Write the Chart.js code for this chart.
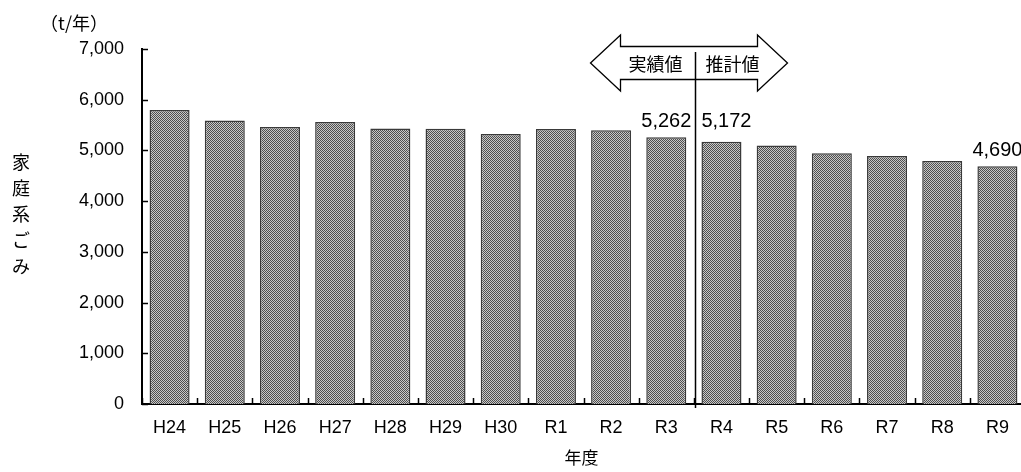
<!DOCTYPE html>
<html lang="ja">
<head>
<meta charset="utf-8">
<title>家庭系ごみ</title>
<script src="https://cdn.jsdelivr.net/npm/chart.js@4.4.1/dist/chart.umd.min.js"></script>
<style>
  html, body { margin: 0; padding: 0; background: #fff; overflow: hidden; }
  #wrap { width: 1021px; height: 472px; overflow: hidden; }
</style>
</head>
<body>
<div id="wrap"><canvas id="gomiChart" width="1025" height="472"></canvas></div>
<script>
// 年度ごとの家庭系ごみ量 (t/年)  H24〜R3 実績, R4〜R9 推計
const years = ['H24', 'H25', 'H26', 'H27', 'H28', 'H29', 'H30', 'R1', 'R2', 'R3', 'R4', 'R5', 'R6', 'R7', 'R8', 'R9'];
const gomiValues = [5796, 5590, 5462, 5562, 5430, 5426, 5322, 5422, 5396, 5262, 5172, 5096, 4942, 4890, 4790, 4690];
const yTickValues = [0, 1000, 2000, 3000, 4000, 5000, 6000, 7000];
const labeledYears = ['R3', 'R4', 'R9'];
const lastActualYear = 'R3';

const latin = '"Liberation Sans", Arial, sans-serif';
const jp = '"Noto Sans CJK JP", "Noto Sans", sans-serif';

const canvas = document.getElementById('gomiChart');
const ctx = canvas.getContext('2d');

// 網掛け (灰色のドット)
function makeDotPattern() {
    const c = document.createElement('canvas');
    c.width = 2; c.height = 2;
    const g = c.getContext('2d');
    g.fillStyle = '#c8c8c8';
    g.fillRect(0, 0, 2, 2);
    g.fillStyle = '#4e4e4e';
    g.fillRect(0, 0, 1, 1);
    g.fillRect(1, 1, 1, 1);
    return ctx.createPattern(c, 'repeat');
}

function fmt(v) {
    return v.toLocaleString('en-US');
}

// 内向きの目盛り・区切り線・矢印・ラベル
const decorations = {
    id: 'decorations',
    afterDatasetsDraw(chart) {
        const g = chart.ctx;
        const xs = chart.scales.x;
        const ys = chart.scales.y;
        const area = chart.chartArea;
        g.save();
        g.strokeStyle = '#000';
        g.lineWidth = 1.5;

        // y軸の目盛り
        yTickValues.forEach(v => {
            const y = Math.round(ys.getPixelForValue(v)) + 0.5;
            g.beginPath();
            g.moveTo(area.left, y);
            g.lineTo(area.left + 6, y);
            g.stroke();
        });
        // x軸の目盛り (区切り)
        for (let i = 0; i <= years.length; i++) {
            const x = Math.round(xs.getPixelForValue(i - 0.5)) + 0.5;
            g.beginPath();
            g.moveTo(x, area.bottom);
            g.lineTo(x, area.bottom - 6);
            g.stroke();
        }

        // 実績値 / 推計値 の区切り線
        const split = xs.getPixelForValue(years.indexOf(lastActualYear) + 0.5) + 1;
        const sx = Math.round(split) + 0.5;
        g.beginPath();
        g.moveTo(sx, 52);
        g.lineTo(sx, area.bottom + 4);
        g.stroke();

        // 両方向矢印
        const L = sx - 105, R = sx + 92, hl = 30;
        const mid = 63, shaft = 16.5, head = 28;
        g.beginPath();
        g.moveTo(L, mid);
        g.lineTo(L + hl, mid - head);
        g.lineTo(L + hl, mid - shaft);
        g.lineTo(R - hl, mid - shaft);
        g.lineTo(R - hl, mid - head);
        g.lineTo(R, mid);
        g.lineTo(R - hl, mid + head);
        g.lineTo(R - hl, mid + shaft);
        g.lineTo(L + hl, mid + shaft);
        g.lineTo(L + hl, mid + head);
        g.closePath();
        g.fillStyle = '#fff';
        g.fill();
        g.lineWidth = 1.3;
        g.stroke();
        // 矢印の中の区切り線は上に重ねる
        g.lineWidth = 1.5;
        g.beginPath();
        g.moveTo(sx, 52);
        g.lineTo(sx, mid + shaft);
        g.stroke();

        g.fillStyle = '#000';
        g.font = '18px ' + jp;
        g.textAlign = 'center';
        g.textBaseline = 'middle';
        g.fillText('実績値', sx - 40, mid + 1);
        g.fillText('推計値', sx + 37, mid + 1);

        // 値ラベル
        const meta = chart.getDatasetMeta(0);
        g.font = '20px ' + latin;
        g.textBaseline = 'alphabetic';
        const r3 = meta.data[years.indexOf('R3')];
        labeledYears.forEach(yr => {
            const i = years.indexOf(yr);
            const bar = meta.data[i];
            let x = bar.x, y = bar.y - 10;
            if (yr === 'R4') { x += 5; y = r3.y - 10; }
            g.fillText(fmt(gomiValues[i]), x, y);
        });

        // 単位・軸タイトル
        g.font = '18px ' + jp;
        g.textBaseline = 'middle';
        g.fillText('（t/年）', 74, 23);
        const yTitle = ['家', '庭', '系', 'ご', 'み'];
        yTitle.forEach((ch, k) => g.fillText(ch, 21, 162 + k * 26));
        g.font = '17px ' + jp;
        g.fillText('年度', (area.left + 1021) / 2, 458);
        g.restore();
    }
};

new Chart(ctx, {
    type: 'bar',
    data: {
        labels: years,
        datasets: [{
            data: gomiValues,
            backgroundColor: makeDotPattern(),
            borderColor: '#3a3a3a',
            borderWidth: 1.5,
            barPercentage: 0.725,
            categoryPercentage: 1.0
        }]
    },
    options: {
        responsive: false,
        animation: false,
        devicePixelRatio: 1,
        layout: { padding: { top: 49, left: 0, right: 0, bottom: 0 } },
        plugins: {
            legend: { display: false },
            tooltip: { enabled: false }
        },
        scales: {
            x: {
                grid: { display: false, drawTicks: false },
                border: { display: true, color: '#000', width: 2 },
                ticks: {
                    color: '#000',
                    font: { family: latin, size: 18 },
                    padding: 13,
                    maxRotation: 0,
                    autoSkip: false
                },
                afterFit(s) { s.height = 68; }
            },
            y: {
                min: 0,
                max: 7000,
                grid: { display: false, drawTicks: false },
                border: { display: true, color: '#000', width: 2 },
                ticks: {
                    stepSize: 1000,
                    color: '#000',
                    font: { family: latin, size: 18 },
                    padding: 18,
                    callback: v => fmt(v)
                },
                afterFit(s) { s.width = 142; }
            }
        }
    },
    plugins: [decorations]
});
</script>
</body>
</html>
